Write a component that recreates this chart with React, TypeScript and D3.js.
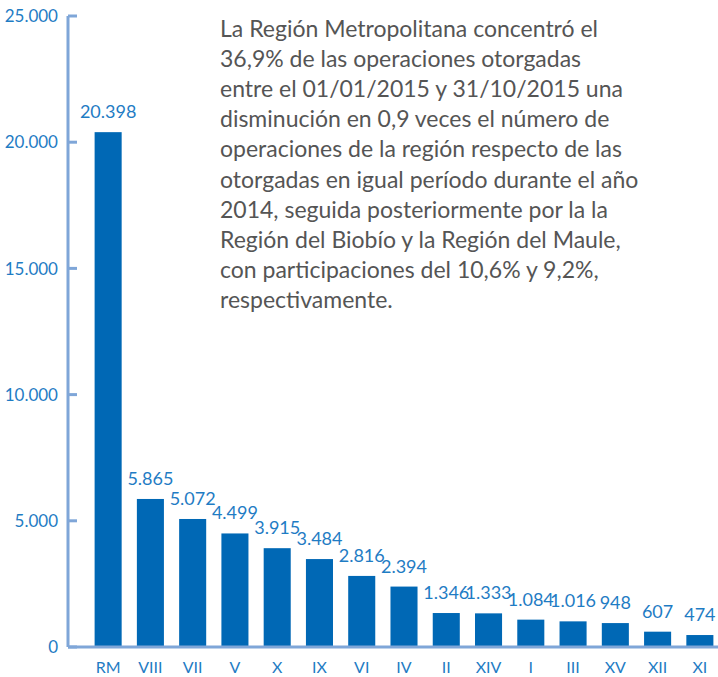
import React from "react";
import * as d3 from "d3";

const categories = ["RM", "VIII", "VII", "V", "X", "IX", "VI", "IV", "II", "XIV", "I", "III", "XV", "XII", "XI"];
const values = [20398, 5865, 5072, 4499, 3915, 3484, 2816, 2394, 1346, 1333, 1084, 1016, 948, 607, 474];
const yTicks = [0, 5000, 10000, 15000, 20000, 25000];
const paragraph = [
  "La Región Metropolitana concentró el",
  "36,9% de las operaciones otorgadas",
  "entre el 01/01/2015 y 31/10/2015 una",
  "disminución en 0,9 veces el número de",
  "operaciones de la región respecto de las",
  "otorgadas en igual período durante el año",
  "2014, seguida posteriormente por la la",
  "Región del Biobío y la Región del Maule,",
  "con participaciones del 10,6% y 9,2%,",
  "respectivamente.",
];

const fmt = (v: number) => d3.format(",")(v).replace(/,/g, ".");

export default function App() {
  const W = 718, H = 677;
  const axisX = 68;
  const y = d3.scaleLinear().domain([0, 25000]).range([647, 16]);
  const x = d3.scaleBand().domain(categories).range([87, 721]).paddingInner(0.36).paddingOuter(0.18);
  const blue = "#0068b5";
  const labelBlue = "#1f7cc4";
  const axisColor = "#7fa6d8";
  const font = "Lato, 'Open Sans', sans-serif";
  return (
    <svg width={W} height={H} style={{ position: "absolute", left: 0, top: 0 }}>
      <rect width={W} height={H} fill="#fff" />
      {values.map((v, i) => (
        <rect key={i} x={x(categories[i])} y={y(v)} width={x.bandwidth()} height={y(0) - y(v)} fill={blue} />
      ))}
      <line x1={axisX} x2={axisX} y1={y(25000)} y2={y(0)} stroke={axisColor} strokeWidth={3} />
      <line x1={axisX} x2={W} y1={y(0)} y2={y(0)} stroke={axisColor} strokeWidth={3} />
      {yTicks.map((t) => (
        <g key={t}>
          <line x1={axisX} x2={axisX + 9} y1={y(t)} y2={y(t)} stroke={axisColor} strokeWidth={3} />
          <text x={58} y={y(t)} dy="0.36em" textAnchor="end" fill={labelBlue} fontFamily={font} fontSize={17}>
            {fmt(t)}
          </text>
        </g>
      ))}
      {values.map((v, i) => (
        <text key={i} x={(x(categories[i]) ?? 0) + x.bandwidth() / 2} y={y(v) - 14} textAnchor="middle" fill={labelBlue} fontFamily={font} fontSize={18}>
          {fmt(v)}
        </text>
      ))}
      {categories.map((c) => (
        <text key={c} x={(x(c) ?? 0) + x.bandwidth() / 2} y={673} textAnchor="middle" fill={labelBlue} fontFamily={font} fontSize={16}>
          {c}
        </text>
      ))}
      {paragraph.map((l, i) => (
        <text key={i} x={220} y={37 + i * 30.1} fill="#555" fontFamily={font} fontSize={23}>
          {l}
        </text>
      ))}
    </svg>
  );
}
